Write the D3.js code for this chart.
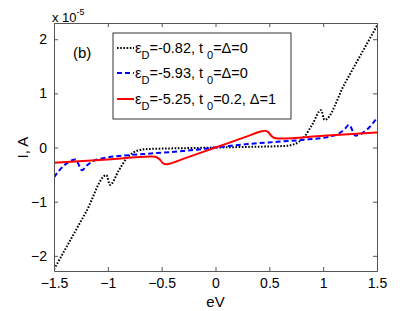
<!DOCTYPE html>
<html>
<head>
<meta charset="utf-8">
<script src="https://cdn.jsdelivr.net/npm/d3@7"></script>
<style>
  body { margin: 0; background: #fff; }
  svg text { font-family: "Liberation Sans", Arial, sans-serif; fill: #000; }
  .axis path, .axis line { stroke: #555; }
  .axis text { font-size: 14px; }
</style>
</head>
<body>
<svg id="chart" width="417" height="311"></svg>
<script>
// half curves for V <= 0 (current in units of 1e-5 A); the curves are odd so V > 0 is mirrored
const blackV = [-1.5, -1.2, -1.013, -0.98, -0.9, -0.826, -0.77, -0.72, -0.65, -0.5, -0.25, 0];
const blackI = [-2.25, -1.18, -0.51, -0.69, -0.43, -0.2, -0.1, -0.055, -0.03, -0.02, -0.01, 0];

const blueV = [-1.5, -1.45, -1.4, -1.35, -1.3, -1.24, -1.2, -1.1, -0.8, -0.6, -0.3, 0];
const blueI = [-0.55, -0.42, -0.32, -0.25, -0.22, -0.42, -0.34, -0.22, -0.14, -0.11, -0.065, 0];

const redV = [-1.5, -1.0, -0.6, -0.56, -0.52, -0.49, -0.46, -0.43, -0.3, 0];
const redI = [-0.28, -0.22, -0.165, -0.17, -0.215, -0.285, -0.31, -0.3, -0.21, 0];

const xTicks = [-1.5, -1, -0.5, 0, 0.5, 1, 1.5];
const yTicks = [-2, -1, 0, 1, 2];

const legendLabels = [
  { eps: '-0.82', rest: '=\u0394=0' },
  { eps: '-5.93', rest: '=\u0394=0' },
  { eps: '-5.25', rest: '=0.2, \u0394=1' },
];

function mirror(vs, is) {
  const pts = vs.map((v, k) => ({ v, i: is[k] }));
  const right = pts.slice(0, -1).reverse().map((d) => ({ v: -d.v, i: -d.i }));
  return pts.concat(right);
}

const series = [
  { data: mirror(blackV, blackI), color: '#000', dash: '1.6,1.6', width: 2 },
  { data: mirror(blueV, blueI), color: '#0000ff', dash: '5,3', width: 2 },
  { data: mirror(redV, redI), color: '#ff0000', dash: null, width: 2 },
];

const svg = d3.select('#chart');
const margin = { top: 23, right: 40, bottom: 40, left: 54 };
const width = 417 - margin.left - margin.right;
const height = 311 - margin.top - margin.bottom;

const x = d3.scaleLinear().domain([-1.5, 1.5]).range([0, width]);
const y = d3.scaleLinear().domain([-2.28, 2.3]).range([height, 0]);

const g = svg.append('g').attr('transform', `translate(${margin.left},${margin.top})`);

const line = d3.line()
  .curve(d3.curveMonotoneX)
  .x((d) => x(d.v))
  .y((d) => y(d.i));

g.append('defs').append('clipPath').attr('id', 'clip')
  .append('rect').attr('width', width).attr('height', height);

series.forEach((s) => {
  g.append('path')
    .datum(s.data)
    .attr('clip-path', 'url(#clip)')
    .attr('fill', 'none')
    .attr('stroke', s.color)
    .attr('stroke-width', s.width)
    .attr('stroke-dasharray', s.dash)
    .attr('d', line);
});

// axes with inward ticks on all four sides
g.append('g').attr('class', 'axis').attr('transform', `translate(0,${height})`)
  .call(d3.axisBottom(x).tickValues(xTicks).tickSizeInner(-4).tickSizeOuter(0).tickPadding(7).tickFormat(d3.format('')));
g.append('g').attr('class', 'axis')
  .call(d3.axisTop(x).tickValues(xTicks).tickSizeInner(-4).tickSizeOuter(0).tickFormat(''));
g.append('g').attr('class', 'axis')
  .call(d3.axisLeft(y).tickValues(yTicks).tickSizeInner(-4).tickSizeOuter(0).tickPadding(7).tickFormat(d3.format('')));
g.append('g').attr('class', 'axis').attr('transform', `translate(${width},0)`)
  .call(d3.axisRight(y).tickValues(yTicks).tickSizeInner(-4).tickSizeOuter(0).tickFormat(''));
g.selectAll('.axis .domain').attr('stroke', '#555');

// multiplier
const mult = svg.append('text').attr('x', 52).attr('y', 22).style('font-size', '13px');
mult.append('tspan').text('x 10');
mult.append('tspan').attr('dy', -7).style('font-size', '9px').text('-5');

// axis labels
svg.append('text').attr('x', margin.left + x(0)).attr('y', 307)
  .attr('text-anchor', 'middle').style('font-size', '15px').text('eV');
svg.append('text').attr('transform', `translate(28,${margin.top + y(0)}) rotate(-90)`)
  .attr('text-anchor', 'middle').style('font-size', '15px').text('I, A');

// panel tag
g.append('text').attr('x', 19).attr('y', 35).style('font-size', '15px').text('(b)');

// legend
const lg = svg.append('g').attr('transform', 'translate(113,33)');
lg.append('rect').attr('width', 178).attr('height', 86)
  .attr('fill', '#fff').attr('stroke', '#333').attr('stroke-width', 1);
const rowY = [15, 40, 66];
legendLabels.forEach((lab, k) => {
  const s = series[k];
  const row = lg.append('g').attr('transform', `translate(0,${rowY[k]})`);
  row.append('line').attr('x1', 4).attr('x2', 21).attr('y1', 0).attr('y2', 0)
    .attr('stroke', s.color).attr('stroke-width', s.width).attr('stroke-dasharray', s.dash);
  const t = row.append('text').attr('x', 22).attr('y', 5).style('font-size', '14.5px');
  t.append('tspan').text('\u03b5');
  t.append('tspan').attr('dy', 6).style('font-size', '11px').text('D');
  t.append('tspan').attr('dy', -6).text('=' + lab.eps + ', t');
  t.append('tspan').attr('dy', 6).attr('dx', 4).style('font-size', '11px').text('0');
  t.append('tspan').attr('dy', -6).text(lab.rest);
});
</script>
</body>
</html>
